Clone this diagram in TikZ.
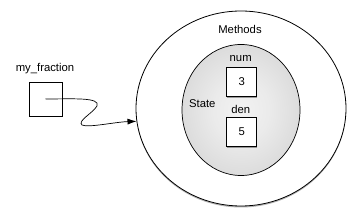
\documentclass[tikz,border=0pt]{standalone}
\usepackage{fontspec}
\setmainfont{Liberation Sans}
\usetikzlibrary{shadows,arrows.meta,shapes.geometric}
\pgfdeclareradialshading{stateshade}{\pgfpoint{0bp}{0bp}}{%
  color(0bp)=(black!5); color(12bp)=(black!8); color(30bp)=(black!16);
  color(50bp)=(black!32); color(60bp)=(black!32)}
\tikzset{
  lbl/.style={inner sep=0pt, font=\fontsize{11.3}{13}\selectfont},
  valbox/.style={draw, line width=0.8pt, fill=white, inner sep=0pt,
    drop shadow={shadow xshift=0.6pt, shadow yshift=-1.4pt, opacity=0.35, fill=black}},
}
\begin{document}
\begin{tikzpicture}[x=1pt,y=-1pt]
\useasboundingbox (0,0) rectangle (359,221);
\node[ellipse, draw, line width=0.8pt, fill=white, minimum width=210pt, minimum height=195pt,
  drop shadow={shadow xshift=0pt, shadow yshift=-1.5pt, opacity=0.3, fill=black}] (outer) at (241,108.5) {};
\node[ellipse, draw, line width=0.7pt, shading=stateshade,
  minimum width=118pt, minimum height=131pt] (inner) at (241,110) {};
\node[valbox, minimum width=30pt, minimum height=29pt] (numbox) at (241.7,81.7) {};
\node[valbox, minimum width=30pt, minimum height=29pt] (denbox) at (241.7,131.7) {};
\node[valbox, minimum width=33pt, minimum height=34pt] (mybox) at (45.5,99) {};
\node[lbl] (methods) at (240,29) {Methods};
\node[lbl] (num) at (240.7,59) {num};
\node[lbl] (den) at (240.7,109.3) {den};
\node[lbl] (state) at (202.3,103.3) {State};
\node[lbl] (three) at (numbox.center) {3};
\node[lbl] (five) at (denbox.center) {5};
\node[lbl] (myname) at (45,69) {my\_fraction};
\draw[line width=0.7pt, -{Latex[length=9pt,width=6pt]}] (mybox.center)
  .. controls (72,99) and (101,97) .. (97,106)
  .. controls (93,113) and (77,121) .. (82,125)
  .. controls (88,128) and (115,122) .. (outer.187);
\end{tikzpicture}
\end{document}
